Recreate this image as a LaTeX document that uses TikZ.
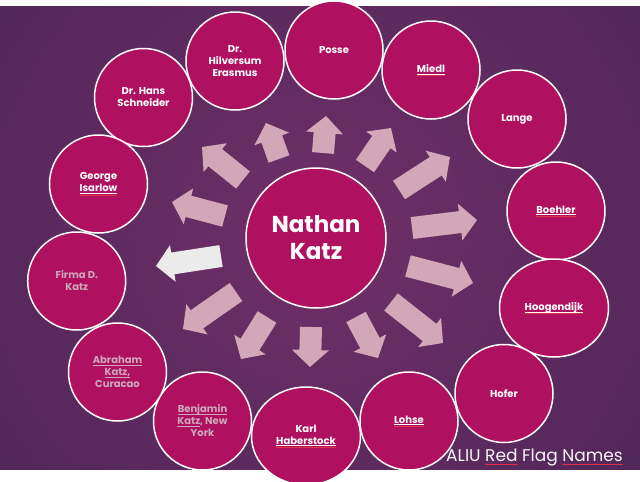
\documentclass[tikz,border=0pt]{standalone}
\usepackage{fontspec}
\setmainfont{Poppins}
\usetikzlibrary{shapes.geometric}
\definecolor{bgin}{RGB}{112,48,104}
\definecolor{bgout}{RGB}{52,30,74}
\definecolor{magenta}{RGB}{176,16,96}
\definecolor{arrowpink}{RGB}{211,167,184}
\definecolor{arrowwhite}{RGB}{235,235,235}
\definecolor{linkgray}{RGB}{205,168,188}
\definecolor{spellred}{RGB}{220,50,70}
\newcommand\ulw[1]{\leavevmode\setbox0\hbox{#1}\rlap{\rule[-1.8pt]{\wd0}{0.6pt}}\box0\relax}
\newcommand\spl[1]{\leavevmode\setbox0\hbox{#1}\rlap{\rule[-1.8pt]{\wd0}{0.6pt}}\rlap{\color{spellred}\rule[-3.2pt]{\wd0}{0.5pt}}\box0\relax}
\newcommand\spr[1]{\leavevmode\setbox0\hbox{#1}\rlap{\color{spellred}\rule[-2.8pt]{\wd0}{0.5pt}}\box0\relax}
\newcommand\blockarrow[5]{%
  \pgfmathsetmacro\baang{atan2(-((#4)-(#2)),(#3)-(#1))}%
  \pgfmathsetmacro\balen{veclen((#3)-(#1),(#4)-(#2))}%
  \fill[#5,shift={(#1,#2)},rotate=\baang] (0,-11) -- (\balen-17,-11) -- (\balen-17,-18.5) -- (\balen,0) -- (\balen-17,18.5) -- (\balen-17,11) -- (0,11) -- cycle;}
\begin{document}
\begin{tikzpicture}[x=1pt,y=-1pt,
  bubble/.style={circle,draw=white,line width=1.5pt,fill=magenta,inner sep=0pt,minimum size=98pt,
    text=white,align=center,font=\bfseries\fontsize{10}{12}\selectfont},
  ebubble/.style={bubble,ellipse,minimum width=109pt,minimum height=98pt},
  linkbubble/.style={bubble,text=linkgray},
  hub/.style={bubble,minimum size=140pt,font=\bfseries\fontsize{23}{27}\selectfont}]
\useasboundingbox (0,0) rectangle (640,482);
\fill[white] (0,0) rectangle (640,482);
\begin{scope}
\clip (0,6) rectangle (640,469.5);
\shade[inner color=bgin,outer color=bgout] (320,238) circle (760);
\end{scope}
% arrows
\blockarrow{323}{153}{326}{116}{arrowpink}
\blockarrow{365}{166}{391}{128}{arrowpink}
\blockarrow{399}{190}{450}{157}{arrowpink}
\blockarrow{412}{228}{477}{220}{arrowpink}
\blockarrow{408}{266}{473}{283}{arrowpink}
\blockarrow{391}{302}{443}{343}{arrowpink}
\blockarrow{356}{317}{378}{358}{arrowpink}
\blockarrow{311}{327}{310}{367}{arrowpink}
\blockarrow{267}{317}{241}{359}{arrowpink}
\blockarrow{236}{292}{183}{329}{arrowpink}
\blockarrow{221}{256}{156}{266}{arrowwhite}
\blockarrow{225}{216}{172}{202}{arrowpink}
\blockarrow{243}{180}{202}{147}{arrowpink}
\blockarrow{279}{159}{266}{123}{arrowpink}
% hub
\node[hub] (nathan) at (316,238) {Nathan\\Katz};
% outer circles
\node[bubble] (hil) at (235,61) {Dr.\\Hilversum\\Erasmus};
\node[bubble] (schn) at (143.5,97.5) {Dr. Hans\\Schneider};
\node[bubble] (isar) at (98.5,184) {George\\\spl{Isarlow}};
\node[bubble] (posse) at (334,50) {Posse};
\node[bubble] (miedl) at (431,70) {\spl{Miedl}};
\node[bubble] (lange) at (517,119) {Lange};
\node[bubble] (boehler) at (556,211) {\spl{Boehler}};
\node[ebubble] (hoog) at (554,308) {\spl{Hoogendijk}};
\node[bubble] (hofer) at (504,393.5) {Hofer};
\node[bubble] (lohse) at (409,421) {\spl{Lohse}};
\node[ebubble] (karl) at (306,436) {Karl\\\spl{Haberstock}};
\node[linkbubble] (benj) at (202.5,421) {\ulw{Benjamin}\\\ulw{Katz}, New\\York};
\node[linkbubble] (abr) at (117.5,372) {\ulw{Abraham}\\\ulw{Katz,}\\Curacao};
\node[linkbubble] (firma) at (76.7,281) {Firma D.\\Katz};
% title
\node[anchor=base west,inner sep=0pt,text=white!92!gray,font=\fontsize{17}{19}\selectfont] (title) at (446,461.7) {ALIU \spr{Red} Flag \spr{Names}};
\end{tikzpicture}
\end{document}
